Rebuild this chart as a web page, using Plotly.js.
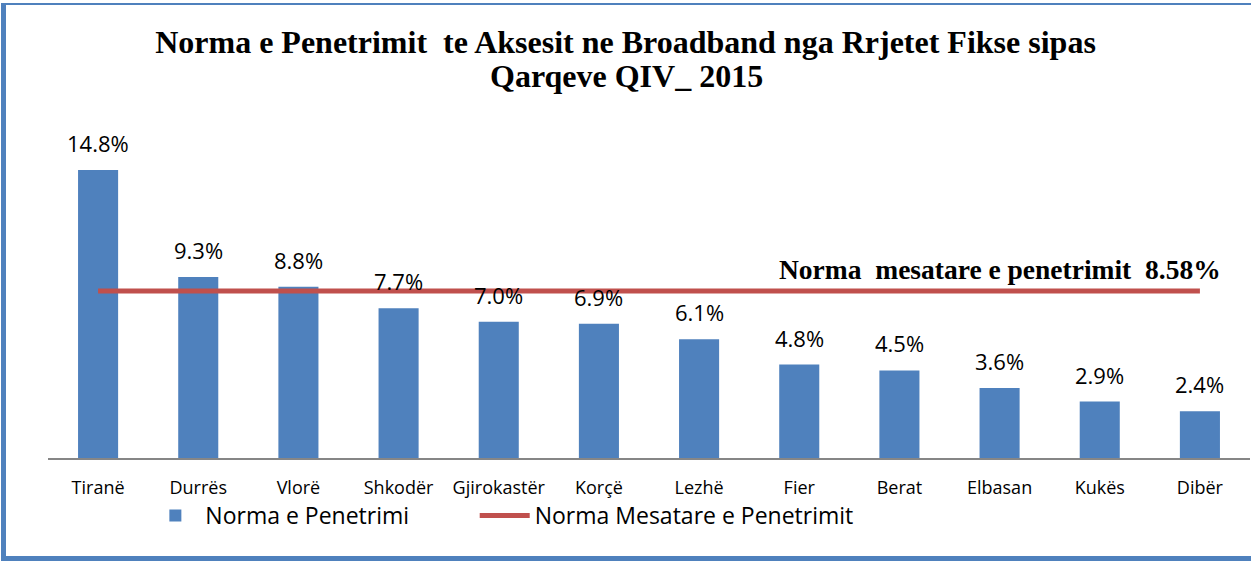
<!DOCTYPE html>
<html>
<head>
<meta charset="utf-8">
<script src="https://cdn.plot.ly/plotly-3.0.1.min.js"></script>
<style>
  html, body { margin: 0; padding: 0; background: #fff; }
  #wrap { position: relative; width: 1251px; height: 561px; }
  #chart { position: absolute; left: 0; top: 0; width: 1251px; height: 561px; }
  #frame { position: absolute; left: 1px; top: 3px; width: 1245px; height: 551px;
           border-left: 5px solid #4F81BD; border-top: 2px solid #4F81BD;
           border-right: 3px solid #4F81BD; border-bottom: 5px solid #4F81BD;
           pointer-events: none; }
</style>
</head>
<body>
<div id="wrap">
  <div id="chart"></div>
  <div id="frame"></div>
</div>
<script>
const categories = ["Tiranë", "Durrës", "Vlorë", "Shkodër", "Gjirokastër", "Korçë", "Lezhë", "Fier", "Berat", "Elbasan", "Kukës", "Dibër"];
const penetrationRate = [14.8, 9.3, 8.8, 7.7, 7.0, 6.9, 6.1, 4.8, 4.5, 3.6, 2.9, 2.4];
const averageRate = 8.58;
const averageLine = categories.map(() => averageRate);
const barName = "Norma e Penetrimi";
const lineName = "Norma Mesatare e Penetrimit";
const titleLine1 = "Norma e Penetrimit  te Aksesit ne Broadband nga Rrjetet Fikse sipas";
const titleLine2 = "Qarqeve QIV_ 2015";
const averageLabel = "Norma  mesatare e penetrimit  8.58%";

const sans = "Open Sans, Liberation Sans, sans-serif";
const serif = "Liberation Serif, DejaVu Serif, serif";

const traces = [
  {
    type: "bar",
    x: categories,
    y: penetrationRate,
    name: barName,
    legend: "legend",
    marker: { color: "#4F81BD" },
    hoverinfo: "x+y"
  },
  {
    type: "scatter",
    mode: "lines",
    x: categories,
    y: averageLine,
    name: lineName,
    legend: "legend2",
    line: { color: "#C0504D", width: 5 }
  }
];

const valueLabels = categories.map((c, i) => ({
  x: c, y: penetrationRate[i], xref: "x", yref: "y",
  text: penetrationRate[i].toFixed(1) + "%",
  showarrow: false, yanchor: "bottom", yshift: 10,
  font: { family: sans, size: 22, color: "#000" }
}));

const legendCommon = {
  orientation: "h",
  xanchor: "left",
  y: -0.17, yanchor: "middle",
  font: { family: sans, size: 23, color: "#000" },
  itemwidth: 50,
  bgcolor: "rgba(0,0,0,0)"
};

const layout = {
  width: 1251, height: 561,
  paper_bgcolor: "rgba(0,0,0,0)",
  plot_bgcolor: "rgba(0,0,0,0)",
  margin: { l: 48, r: 1, t: 120, b: 103 },
  title: {
    text: "<b>" + titleLine1 + "</b>",
    x: 0.5, xref: "container", xanchor: "center",
    y: 0.925, yref: "container", yanchor: "middle",
    font: { family: serif, size: 32, color: "#000" }
  },
  bargap: 0.6,
  showlegend: true,
  legend: Object.assign({ x: 0.081 }, legendCommon),
  legend2: Object.assign({ x: 0.355 }, legendCommon),
  xaxis: {
    type: "category",
    showline: true, linecolor: "#868686", linewidth: 2,
    ticks: "outside", ticklen: 12, tickcolor: "rgba(0,0,0,0)",
    tickfont: { family: sans, size: 18, color: "#000" },
    showgrid: false, zeroline: false, fixedrange: true
  },
  yaxis: {
    range: [0, 17.37],
    visible: false, showgrid: false, zeroline: false, fixedrange: true
  },
  annotations: valueLabels.concat([
    {
      xref: "paper", yref: "paper", x: 0.481, y: 1.13,
      text: "<b>" + titleLine2 + "</b>",
      showarrow: false, xanchor: "center", yanchor: "middle",
      font: { family: serif, size: 32, color: "#000" }
    },
    {
      xref: "paper", yref: "y", x: 0.792, y: averageRate,
      text: "<b>" + averageLabel + "</b>",
      showarrow: false, xanchor: "center", yanchor: "bottom", yshift: 4,
      font: { family: serif, size: 27.5, color: "#000" }
    }
  ])
};

Plotly.newPlot("chart", traces, layout, { displayModeBar: false, staticPlot: true });
</script>
</body>
</html>
